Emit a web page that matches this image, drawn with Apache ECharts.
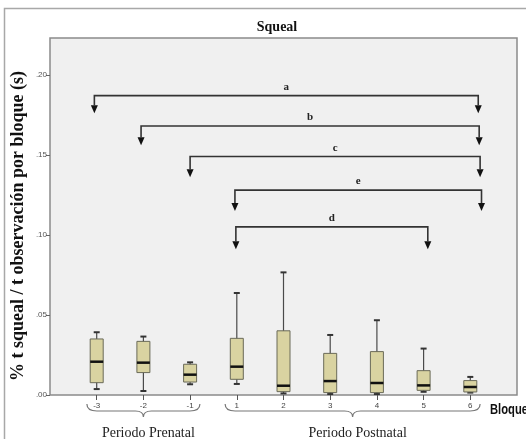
<!DOCTYPE html>
<html>
<head>
    <meta charset="utf-8">
    <script src="https://cdn.jsdelivr.net/npm/echarts@6/dist/echarts.min.js"></script>
</head>
<body style="margin:0">
    <div id="main" style="width: 526px;height:439px;"></div>
    <script type="text/javascript">
        // bloques y valores
        var categories = ['-3', '-2', '-1', '1', '2', '3', '4', '5', '6'];
        var whiskerLow = [0.0037, 0.0025, 0.0067, 0.0069, 0.0010, 0.0006, 0.0006, 0.0020, 0.0015];
        var q1 = [0.0077, 0.0140, 0.0081, 0.0098, 0.0021, 0.0015, 0.0015, 0.0029, 0.0019];
        var median = [0.0208, 0.0202, 0.0127, 0.0177, 0.0058, 0.0087, 0.0075, 0.0060, 0.0050];
        var q3 = [0.0350, 0.0335, 0.0192, 0.0354, 0.0401, 0.0260, 0.0271, 0.0152, 0.0090];
        var whiskerHigh = [0.0392, 0.0365, 0.0204, 0.0637, 0.0766, 0.0375, 0.0467, 0.0290, 0.0113];

        var yTicks = [0, 0.05, 0.10, 0.15, 0.20];

        // comparaciones (posicion en bloques del eje, 0 = borde izquierdo)
        var bracketLetters = ['a', 'b', 'c', 'e', 'd'];
        var bracketFrom = [0.95, 1.95, 3.0, 3.96, 3.98];
        var bracketTo = [9.17, 9.19, 9.21, 9.24, 8.09];
        var bracketTop = [0.187, 0.168, 0.149, 0.128, 0.105];
        var bracketTip = [0.176, 0.156, 0.136, 0.115, 0.091];

        var braceLabels = ['Periodo Prenatal', 'Periodo Postnatal'];
        var braceFrom = [0.79, 3.75];
        var braceTo = [3.21, 9.21];

        var axisCats = [''].concat(categories, ['']);

        var boxData = [];
        for (var i = 0; i < categories.length; i++) {
            boxData.push([i + 1, whiskerLow[i], q1[i], median[i], q3[i], whiskerHigh[i]]);
        }

        function xPix(api, v) {
            var base = api.coord([0, 0])[0];
            var step = api.coord([1, 0])[0] - base;
            return base + v * step;
        }

        var myChart = echarts.init(document.getElementById('main'));

        var option = {
            animation: false,
            title: {
                text: 'Squeal',
                left: 272,
                top: 15,
                textAlign: 'center',
                textStyle: { fontFamily: 'Liberation Serif', fontWeight: 'bold', fontSize: 14, color: '#111' }
            },
            grid: {
                left: 50, right: 9, top: 38, bottom: 44,
                show: true,
                backgroundColor: '#f0f0f0',
                borderColor: '#8a8a8a',
                borderWidth: 1.5
            },
            xAxis: {
                type: 'category',
                data: axisCats,
                boundaryGap: false,
                axisLine: { show: false },
                axisTick: {
                    length: 5,
                    interval: function (idx, val) { return val !== ''; },
                    lineStyle: { color: '#555' }
                },
                axisLabel: {
                    interval: function (idx, val) { return val !== ''; },
                    margin: 7,
                    fontSize: 8,
                    color: '#444',
                    fontFamily: 'Liberation Sans'
                },
                splitLine: { show: false }
            },
            yAxis: {
                type: 'value',
                min: 0,
                max: 0.223,
                interval: 0.05,
                axisLine: { show: false },
                axisTick: { show: true, length: 4, lineStyle: { color: '#666' } },
                axisLabel: {
                    fontSize: 8,
                    color: '#555',
                    margin: 3,
                    fontFamily: 'Liberation Sans',
                    showMaxLabel: false,
                    formatter: function (v) {
                        for (var k = 0; k < yTicks.length; k++) {
                            if (Math.abs(v - yTicks[k]) < 1e-9) return '.' + (yTicks[k] * 100).toFixed(0).padStart(2, '0');
                        }
                        return '';
                    }
                },
                splitLine: { show: false }
            },
            graphic: [
                {
                    type: 'rect',
                    shape: { x: 4.5, y: 8.5, width: 600, height: 600 },
                    style: { fill: null, stroke: '#a8a8a8', lineWidth: 1.5 },
                    silent: true
                },
                {
                    type: 'text',
                    x: 18, y: 226,
                    rotation: Math.PI / 2,
                    style: {
                        text: '% t squeal / t observación por bloque (s)',
                        font: 'bold 18px "Liberation Serif"',
                        fill: '#111',
                        align: 'center',
                        verticalAlign: 'middle'
                    }
                },
                {
                    type: 'text',
                    x: 490, y: 410,
                    scaleX: 0.8,
                    style: {
                        text: 'Bloques',
                        font: 'bold 14px "Liberation Sans"',
                        fill: '#111',
                        align: 'left',
                        verticalAlign: 'middle'
                    }
                }
            ],
            series: [
                {
                    type: 'custom',
                    name: 'cajas',
                    data: boxData,
                    encode: { x: 0, y: [1, 2, 3, 4, 5] },
                    renderItem: function (params, api) {
                        var idx = api.value(0);
                        var x = api.coord([idx, 0])[0];
                        var pLow = api.coord([idx, api.value(1)])[1];
                        var pQ1 = api.coord([idx, api.value(2)])[1];
                        var pMed = api.coord([idx, api.value(3)])[1];
                        var pQ3 = api.coord([idx, api.value(4)])[1];
                        var pHigh = api.coord([idx, api.value(5)])[1];
                        var w = 13, cap = 3;
                        return {
                            type: 'group',
                            children: [
                                { type: 'line', shape: { x1: x, y1: pHigh, x2: x, y2: pLow }, style: { stroke: '#4a4a4a', lineWidth: 1.2 } },
                                { type: 'line', shape: { x1: x - cap, y1: pHigh, x2: x + cap, y2: pHigh }, style: { stroke: '#333', lineWidth: 2 } },
                                { type: 'line', shape: { x1: x - cap, y1: pLow, x2: x + cap, y2: pLow }, style: { stroke: '#333', lineWidth: 2 } },
                                { type: 'rect', shape: { x: x - w / 2, y: pQ3, width: w, height: pQ1 - pQ3 }, style: { fill: '#d9d3a1', stroke: '#6a6a58', lineWidth: 1 } },
                                { type: 'line', shape: { x1: x - w / 2, y1: pMed, x2: x + w / 2, y2: pMed }, style: { stroke: '#111', lineWidth: 2.5 } }
                            ]
                        };
                    },
                    z: 3
                },
                {
                    type: 'custom',
                    name: 'comparaciones',
                    data: bracketFrom.map(function (v, k) { return [Math.round(v), bracketTop[k]]; }),
                    renderItem: function (params, api) {
                        var k = params.dataIndex;
                        var xL = xPix(api, bracketFrom[k]);
                        var xR = xPix(api, bracketTo[k]);
                        var yTop = api.coord([0, bracketTop[k]])[1];
                        var yTip = api.coord([0, bracketTip[k]])[1];
                        var ah = 8, aw = 3.5;
                        return {
                            type: 'group',
                            children: [
                                { type: 'polyline', shape: { points: [[xL, yTip - ah], [xL, yTop], [xR, yTop], [xR, yTip - ah]] }, style: { fill: null, stroke: '#333', lineWidth: 1.6 } },
                                { type: 'polygon', shape: { points: [[xL - aw, yTip - ah], [xL + aw, yTip - ah], [xL, yTip]] }, style: { fill: '#111' } },
                                { type: 'polygon', shape: { points: [[xR - aw, yTip - ah], [xR + aw, yTip - ah], [xR, yTip]] }, style: { fill: '#111' } },
                                { type: 'text', x: (xL + xR) / 2, y: yTop - 3, style: { text: bracketLetters[k], font: 'bold 11px "Liberation Serif"', fill: '#222', align: 'center', verticalAlign: 'bottom' } }
                            ]
                        };
                    },
                    z: 4
                },
                {
                    type: 'custom',
                    name: 'periodos',
                    clip: false,
                    data: braceFrom.map(function (v) { return [Math.round(v), 0]; }),
                    renderItem: function (params, api) {
                        var k = params.dataIndex;
                        var x0 = xPix(api, braceFrom[k]);
                        var x1 = xPix(api, braceTo[k]);
                        var xc = (x0 + x1) / 2;
                        var ay = api.coord([0, 0])[1];
                        var yT = ay + 9, yM = ay + 16, yB = ay + 22;
                        var d = 'M' + x0 + ' ' + yT +
                            ' Q' + x0 + ' ' + yM + ' ' + (x0 + 10) + ' ' + yM +
                            ' L' + (xc - 8) + ' ' + yM +
                            ' Q' + xc + ' ' + yM + ' ' + xc + ' ' + yB +
                            ' Q' + xc + ' ' + yM + ' ' + (xc + 8) + ' ' + yM +
                            ' L' + (x1 - 10) + ' ' + yM +
                            ' Q' + x1 + ' ' + yM + ' ' + x1 + ' ' + yT;
                        return {
                            type: 'group',
                            children: [
                                { type: 'path', shape: { pathData: d }, style: { fill: null, stroke: '#777', lineWidth: 1.2 } },
                                { type: 'text', x: xc + 5, y: ay + 38, style: { text: braceLabels[k], font: '14px "Liberation Serif"', fill: '#222', align: 'center', verticalAlign: 'middle' } }
                            ]
                        };
                    },
                    z: 4
                }
            ]
        };

        myChart.setOption(option);
    </script>
</body>
</html>
